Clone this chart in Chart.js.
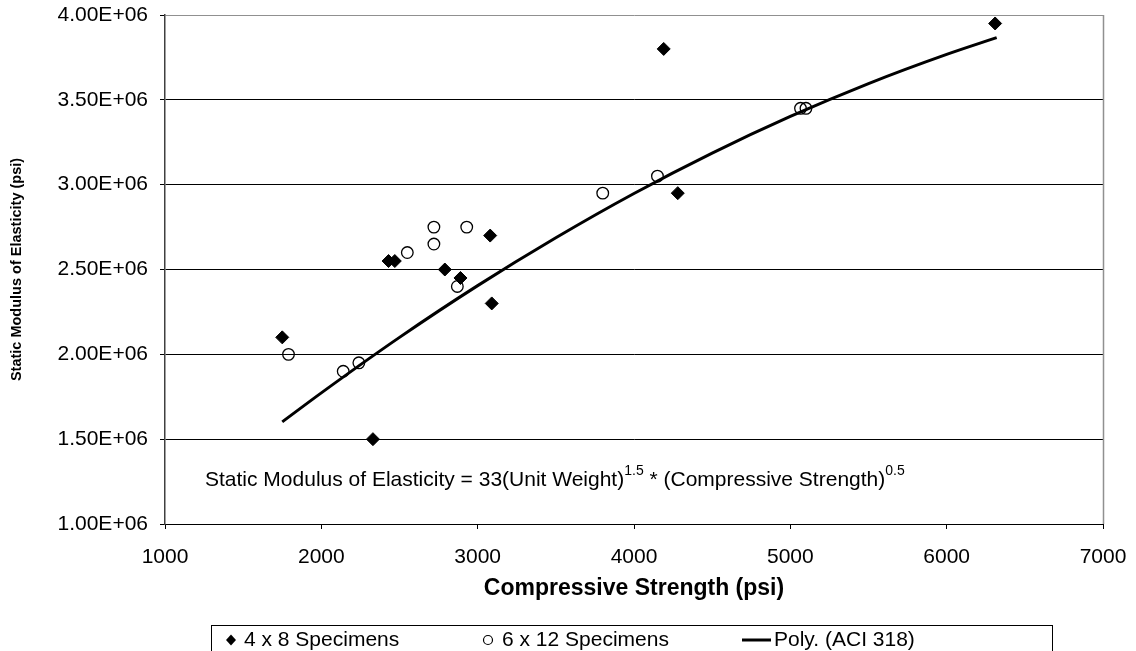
<!DOCTYPE html>
<html><head><meta charset="utf-8">
<script src="https://cdn.jsdelivr.net/npm/chart.js@4"></script>
<style>html,body{margin:0;padding:0;background:#fff;}#wrap{width:1136px;height:651px;position:relative;}</style>
</head><body><div id="wrap"><canvas id="c" width="1136" height="651"></canvas></div>
<script>
// ---- data ----
const specimens4x8X = [1750, 2330, 2430, 2470, 2790, 2890, 3080, 3090, 4190, 4280, 6310];
const specimens4x8Y = [2.10e6, 1.50e6, 2.55e6, 2.55e6, 2.50e6, 2.45e6, 2.70e6, 2.30e6, 3.80e6, 2.95e6, 3.95e6];
const specimens6x12X = [1790, 2140, 2240, 2550, 2720, 2720, 2870, 2930, 3800, 4150, 5065, 5100];
const specimens6x12Y = [2.00e6, 1.90e6, 1.95e6, 2.60e6, 2.75e6, 2.65e6, 2.40e6, 2.75e6, 2.95e6, 3.05e6, 3.45e6, 3.45e6];
const aciX = [1750, 2000, 2500, 3000, 3500, 4000, 4500, 5000, 5500, 6000, 6320];
const aciY = [1.602e6, 1.773e6, 2.100e6, 2.405e6, 2.687e6, 2.948e6, 3.186e6, 3.402e6, 3.596e6, 3.768e6, 3.867e6];
const xTicks = [1000, 2000, 3000, 4000, 5000, 6000, 7000];
const xTickLabels = ['1000', '2000', '3000', '4000', '5000', '6000', '7000'];
const yTicks = [1.0e6, 1.5e6, 2.0e6, 2.5e6, 3.0e6, 3.5e6, 4.0e6];
const yTickLabels = ['1.00E+06', '1.50E+06', '2.00E+06', '2.50E+06', '3.00E+06', '3.50E+06', '4.00E+06'];
const seriesNames = ['4 x 8 Specimens', '6 x 12 Specimens', 'Poly. (ACI 318)'];
const xTitle = 'Compressive Strength (psi)';
const yTitle = 'Static Modulus of Elasticity (psi)';

const FONT = '"Liberation Sans", Arial, sans-serif';
const pts = (xs, ys) => xs.map((x, i) => ({x, y: ys[i]}));

function txt(ctx, s, x, y, font, align) {
  ctx.save(); ctx.font = font; ctx.fillStyle = '#000';
  ctx.textAlign = align || 'left'; ctx.textBaseline = 'middle';
  ctx.fillText(s, x, y); ctx.restore();
}

const decor = {
  id: 'decor',
  afterDraw(chart) {
    const ctx = chart.ctx, a = chart.chartArea;
    // right border
    ctx.save(); ctx.strokeStyle = '#909090'; ctx.lineWidth = 1.5;
    ctx.beginPath(); ctx.moveTo(a.right + 0.5, a.top); ctx.lineTo(a.right + 0.5, a.bottom); ctx.stroke(); ctx.restore();
    // axis titles
    txt(ctx, xTitle, (a.left + a.right) / 2, 589, 'bold 23px ' + FONT, 'center');
    ctx.save(); ctx.translate(17, (a.top + a.bottom) / 2); ctx.rotate(-Math.PI / 2);
    txt(ctx, yTitle, 0, 0, 'bold 14.5px ' + FONT, 'center'); ctx.restore();
    // equation annotation
    const f = '21px ' + FONT, fs = '14px ' + FONT;
    const parts = [['Static Modulus of Elasticity = 33(Unit Weight)', f, 0], ['1.5', fs, -9], [' * (Compressive Strength)', f, 0], ['0.5', fs, -9]];
    let x = 205; const y = 480;
    for (const [s, ff, dy] of parts) { txt(ctx, s, x, y + dy, ff, 'left'); ctx.save(); ctx.font = ff; x += ctx.measureText(s).width; ctx.restore(); }
    // legend
    ctx.save(); ctx.strokeStyle = '#000'; ctx.lineWidth = 1;
    ctx.strokeRect(211.5, 625.5, 841, 40);
    const ly = 640;
    ctx.fillStyle = '#000';
    ctx.beginPath(); ctx.moveTo(231, ly - 5.5); ctx.lineTo(236, ly); ctx.lineTo(231, ly + 5.5); ctx.lineTo(226, ly); ctx.closePath(); ctx.fill();
    ctx.beginPath(); ctx.arc(488, ly, 4.5, 0, Math.PI * 2); ctx.lineWidth = 1.2; ctx.stroke();
    ctx.beginPath(); ctx.moveTo(742, ly); ctx.lineTo(771, ly); ctx.lineWidth = 3; ctx.stroke();
    ctx.restore();
    txt(ctx, seriesNames[0], 244, ly, '21px ' + FONT, 'left');
    txt(ctx, seriesNames[1], 502, ly, '21px ' + FONT, 'left');
    txt(ctx, seriesNames[2], 774, ly, '21px ' + FONT, 'left');
  }
};

new Chart(document.getElementById('c'), {
  type: 'scatter',
  data: {
    datasets: [
      { label: seriesNames[2], type: 'line', data: pts(aciX, aciY), showLine: true, borderColor: '#000', borderWidth: 3,
        pointRadius: 0, fill: false, cubicInterpolationMode: 'monotone', order: 0 },
      { label: seriesNames[0], data: pts(specimens4x8X, specimens4x8Y), pointStyle: 'rectRot', pointRadius: 6.5,
        backgroundColor: '#000', borderColor: '#000', borderWidth: 1, order: 2 },
      { label: seriesNames[1], data: pts(specimens6x12X, specimens6x12Y), pointStyle: 'circle', pointRadius: 5.8,
        backgroundColor: 'rgba(0,0,0,0)', borderColor: '#000', borderWidth: 1.3, order: 1 }
    ]
  },
  options: {
    responsive: false, animation: false, devicePixelRatio: 1,
    layout: { padding: { top: 15, right: 33, left: 0, bottom: 0 } },
    plugins: { legend: { display: false }, tooltip: { enabled: false } },
    scales: {
      x: {
        type: 'linear', min: 1000, max: 7000,
        afterBuildTicks: s => { s.ticks = xTicks.map(v => ({value: v})); },
        afterFit: s => { s.height = 127; s.paddingLeft = 0; s.paddingRight = 0; },
        grid: { drawOnChartArea: false, drawTicks: true, tickLength: 5, color: '#000', tickColor: '#000' },
        border: { display: true, color: '#000', width: 1 },
        ticks: { color: '#000', font: { family: FONT, size: 21 }, padding: 16, maxRotation: 0, autoSkip: false,
          callback: (v) => { const i = xTicks.indexOf(v); return i >= 0 ? xTickLabels[i] : ''; } }
      },
      y: {
        type: 'linear', min: 1e6, max: 4e6,
        afterBuildTicks: s => { s.ticks = yTicks.map(v => ({value: v})); },
        afterFit: s => { s.width = 165; s.paddingTop = 0; s.paddingBottom = 0; },
        grid: { drawTicks: true, tickLength: 5, color: c => (c.tick && c.tick.value === 4e6 ? '#909090' : '#000'), tickColor: '#000' },
        border: { display: true, color: '#404040', width: 1.5 },
        ticks: { color: '#000', font: { family: FONT, size: 21 }, padding: 12, autoSkip: false,
          callback: (v) => { const i = yTicks.indexOf(v); return i >= 0 ? yTickLabels[i] : ''; } }
      }
    }
  },
  plugins: [decor]
});
</script></body></html>
